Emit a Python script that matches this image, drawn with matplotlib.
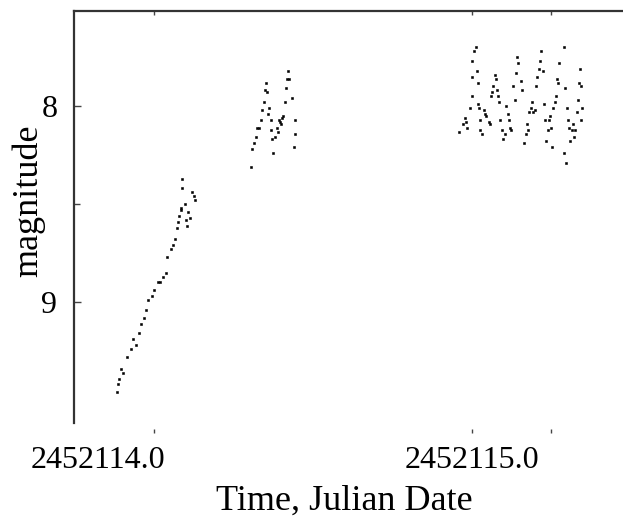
import matplotlib
matplotlib.use("Agg")
import matplotlib.pyplot as plt
import matplotlib.transforms as mtransforms
from matplotlib.ticker import FixedLocator, FixedFormatter

# ---- data (Julian Date, magnitude) ----
jd_night1 = [2452113.884, 2452113.890, 2452113.899, 2452113.918, 2452113.937,
             2452113.953, 2452113.962, 2452113.975, 2452113.984, 2452113.994,
             2452114.013, 2452114.022, 2452114.038, 2452114.044, 2452114.054,
             2452114.069, 2452114.073, 2452114.076, 2452114.085, 2452114.088,
             2452114.101, 2452114.104, 2452114.110, 2452114.126, 2452114.120,
             2452114.091, 2452114.091, 2452114.132, 2452113.887, 2452113.905,
             2452113.928, 2452113.946, 2452113.969, 2452114.000, 2452114.030,
             2452114.060, 2452114.080, 2452114.098, 2452114.115]
mag_night1 = [9.46, 9.39, 9.34, 9.28, 9.19,
              9.16, 9.11, 9.04, 8.99, 8.97,
              8.90, 8.90, 8.85, 8.77, 8.73,
              8.68, 8.62, 8.59, 8.52, 8.53,
              8.58, 8.61, 8.54, 8.46, 8.44,
              8.37, 8.42, 8.48, 9.42, 9.36,
              9.24, 9.22, 9.08, 8.94, 8.87,
              8.71, 8.56, 8.50, 8.57]

jd_night2 = [2452114.306, 2452114.309, 2452114.315, 2452114.322, 2452114.325,
             2452114.331, 2452114.338, 2452114.341, 2452114.347, 2452114.350,
             2452114.353, 2452114.356, 2452114.363, 2452114.369, 2452114.369,
             2452114.372, 2452114.375, 2452114.382, 2452114.388, 2452114.394,
             2452114.397, 2452114.404, 2452114.407, 2452114.413, 2452114.416,
             2452114.420, 2452114.423, 2452114.426, 2452114.435, 2452114.445,
             2452114.445, 2452114.442, 2452114.360, 2452114.400, 2452114.391]
mag_night2 = [8.31, 8.22, 8.19, 8.16, 8.11,
              8.11, 8.07, 8.02, 7.98, 7.92,
              7.88, 7.93, 8.01, 8.07, 8.12,
              8.17, 8.24, 8.16, 8.11, 8.07,
              8.08, 8.06, 8.05, 7.98, 7.91,
              7.86, 7.82, 7.86, 7.96, 8.07,
              8.14, 8.21, 8.04, 8.09, 8.13]

jd_night3 = [2452114.962, 2452114.972, 2452114.978, 2452114.984, 2452114.987,
             2452114.994, 2452115.000, 2452115.000, 2452115.003, 2452115.009,
             2452115.013, 2452115.016, 2452115.019, 2452115.019, 2452115.025,
             2452115.028, 2452115.028, 2452115.032, 2452115.038, 2452115.041,
             2452115.047, 2452115.054, 2452115.057, 2452115.060, 2452115.066,
             2452115.069, 2452115.073, 2452115.076, 2452115.079, 2452115.082,
             2452115.088, 2452115.091, 2452115.095, 2452115.098, 2452115.104,
             2452115.110, 2452115.114, 2452115.117, 2452115.120, 2452115.123,
             2452115.136, 2452115.132, 2452115.139, 2452115.145, 2452115.142,
             2452115.155, 2452115.158, 2452115.164, 2452115.170, 2452115.174,
             2452115.177, 2452115.180, 2452115.186, 2452115.189, 2452115.192,
             2452115.199, 2452115.202, 2452115.205, 2452115.211, 2452115.215,
             2452115.218, 2452115.224, 2452115.227, 2452115.230, 2452115.233,
             2452115.240, 2452115.243, 2452115.246, 2452115.249, 2452115.252,
             2452115.256, 2452115.262, 2452115.265, 2452115.271, 2452115.274,
             2452115.268, 2452115.290, 2452115.294, 2452115.300, 2452115.303,
             2452115.306, 2452115.309, 2452115.315, 2452115.319, 2452115.322,
             2452115.325, 2452115.331, 2452115.334, 2452115.341, 2452115.338,
             2452115.344, 2452115.347, 2452115.344, 2452115.290, 2452115.297]
mag_night3 = [8.13, 8.09, 8.06, 8.08, 8.11,
              8.01, 7.95, 7.85, 7.77, 7.72,
              7.70, 7.82, 7.88, 7.99, 8.01,
              8.07, 8.12, 8.14, 8.02, 8.04,
              8.05, 8.08, 8.09, 7.95, 7.93,
              7.90, 7.84, 7.86, 7.92, 7.95,
              7.98, 8.07, 8.12, 8.17, 8.14,
              8.00, 8.04, 8.07, 8.11, 8.12,
              7.97, 7.90, 7.83, 7.78, 7.75,
              7.87, 7.92, 8.19, 8.14, 8.09,
              8.12, 8.03, 8.01, 7.98, 8.03,
              8.02, 7.90, 7.85, 7.81, 7.77,
              7.72, 7.82, 7.99, 8.07, 8.18,
              8.12, 8.07, 8.05, 8.11, 8.21,
              8.01, 7.98, 7.95, 7.88, 7.78,
              7.86, 7.70, 7.91, 8.01, 8.07,
              8.11, 8.18, 8.12, 8.09, 8.16,
              8.12, 8.03, 7.97, 7.81, 7.88,
              7.90, 8.01, 8.07, 8.24, 8.29]

x_major = [2452114.0, 2452115.0]
x_labels = ["2452114.0", "2452115.0"]
x_minor = [2452115.25]
y_major = [8, 9]
y_labels = ["8", "9"]
y_minor = [8.5]

plt.rcParams['font.family'] = ['Liberation Serif', 'DejaVu Serif']

W, H = 623, 522
fig = plt.figure(figsize=(W / 100, H / 100), dpi=100)
left_px, right_px, top_px, bot_px = 74, 630.5, 11, 433
ax = fig.add_axes([left_px / W, 1 - bot_px / H,
                   (right_px - left_px) / W, (bot_px - top_px) / H])

for xs, ys in [(jd_night1, mag_night1), (jd_night2, mag_night2), (jd_night3, mag_night3)]:
    ax.plot(xs, ys, linestyle='none', marker='s', ms=2.0, mec='black',
            mfc='black', mew=0.4)

ax.set_xlim(2452113.75, 2452115.5)
ax.set_ylim(9.668, 7.515)

ax.xaxis.set_major_locator(FixedLocator(x_major))
ax.xaxis.set_major_formatter(FixedFormatter(x_labels))
ax.xaxis.set_minor_locator(FixedLocator(x_minor))
ax.yaxis.set_major_locator(FixedLocator(y_major))
ax.yaxis.set_major_formatter(FixedFormatter(y_labels))
ax.yaxis.set_minor_locator(FixedLocator(y_minor))

ax.tick_params(axis='both', which='both', direction='in', top=True, right=True,
               color='#444444', width=1.0)
ax.tick_params(axis='both', which='major', length=5)
ax.tick_params(axis='both', which='minor', length=4)
ax.tick_params(axis='x', which='both', bottom=True, length=3)
ax.tick_params(axis='x', which='major', labelsize=23, pad=9)
ax.tick_params(axis='y', which='major', labelsize=23, pad=12)
ax.tick_params(axis='y', which='both', right=True)

ax.spines['bottom'].set_visible(False)
ax.spines['right'].set_visible(False)
for s in ['left', 'top']:
    ax.spines[s].set_color('#333333')
    ax.spines[s].set_linewidth(1.6)
ax.spines['left'].set_bounds(7.515, 9.617)

ax.set_xlabel("Time, Julian Date", fontsize=26)
ax.xaxis.set_label_coords(0.485, -0.122)
ax.set_ylabel("magnitude", fontsize=26)
ax.yaxis.set_label_coords(-0.052, 0.55)

# first x tick label sits left of its tick in the reference
fig.canvas.draw()
lbl = ax.xaxis.get_major_ticks()[0].label1
lbl.set_transform(lbl.get_transform() +
                  mtransforms.ScaledTranslation(-0.56, 0, fig.dpi_scale_trans))

fig.savefig("out.png", dpi=100)
